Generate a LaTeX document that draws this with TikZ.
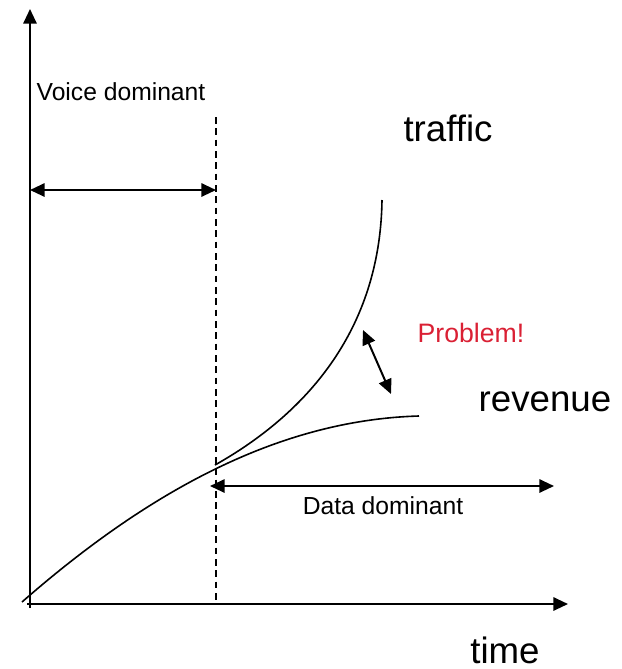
\documentclass[tikz,border=0pt]{standalone}
\usepackage{fontspec}
\setmainfont{Liberation Sans}
\usetikzlibrary{arrows.meta}
\definecolor{alertred}{RGB}{218,32,52}
\tikzset{
  axis/.style={line width=1.5pt,-{Triangle[length=11pt,width=10pt]}},
  span/.style={line width=1.5pt,{Triangle[length=11pt,width=10pt]}-{Triangle[length=11pt,width=10pt]}},
  curve/.style={line width=1.2pt},
  divider/.style={line width=1.2pt,dash pattern=on 5pt off 3.5pt},
  small/.style={font=\fontsize{18.5}{20}\selectfont,inner sep=0pt},
  large/.style={font=\fontsize{27.5}{30}\selectfont,inner sep=0pt},
  alert/.style={font=\fontsize{20}{22}\selectfont,inner sep=0pt,text=alertred}
}
\begin{document}
\begin{tikzpicture}[x=0.75pt,y=-0.75pt]
  \useasboundingbox (0,0) rectangle (622,669);

  % axes
  \coordinate (yb) at (30,608);
  \coordinate (yt) at (30,9);
  \coordinate (xl) at (27,604);
  \coordinate (xr) at (568,604);
  \draw[axis] (yb) -- (yt);
  \draw[axis] (xl) -- (xr);

  % boundary between the two regimes
  \coordinate (dtop) at (216,117);
  \coordinate (dbot) at (216,603);
  \draw[divider] (dtop) -- (dbot);

  % spans of the two regimes
  \coordinate (vl) at (30,190);
  \coordinate (vr) at (216,190);
  \draw[span] (vl) -- (vr);
  \coordinate (dl) at (210,486);
  \coordinate (dr) at (554,486);
  \draw[span] (dl) -- (dr);

  % revenue and traffic curves
  \coordinate (r0) at (22,602);
  \coordinate (r1) at (419,416);
  \coordinate (t0) at (215,465);
  \coordinate (t1) at (382,200);
  \draw[curve] (r0) .. controls (150,490) and (280,420) .. (r1);
  \draw[curve] (t0) .. controls (295,420) and (380,340) .. (t1);

  % gap between traffic and revenue
  \coordinate (gt) at (363,330);
  \coordinate (gb) at (391,394);
  \draw[span] (gt) -- (gb);

  % labels
  \node[small] (voice) at (121,91.5) {Voice dominant};
  \node[small] (data) at (383,506) {Data dominant};
  \node[large] (traffic) at (448,128) {traffic};
  \node[large] (revenue) at (545,402) {revenue};
  \node[large] (time) at (505,650) {time};
  \node[alert] (problem) at (471,332.5) {Problem!};
\end{tikzpicture}
\end{document}
